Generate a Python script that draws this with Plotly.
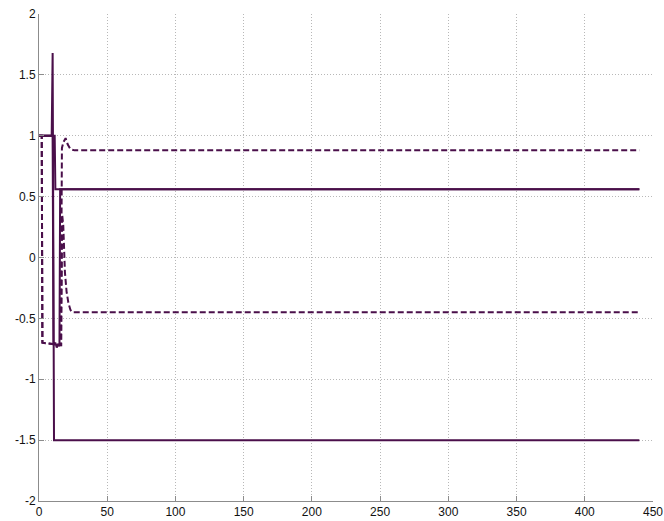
import plotly.graph_objects as go

# Breakpoints (flat segments are constant)
s1_x = [0, 9.3, 10, 10.6, 11, 440]
s1_y = [1, 1, 1.68, -0.95, -1.5, -1.5]

s2_x = [0, 11.5, 12, 440]
s2_y = [1, 1, 0.56, 0.56]

s3_x = [0, 10, 10.6, 12, 13, 14, 15, 15.5, 440]
s3_y = [1, 1, -0.72, -0.70, -0.74, -0.71, -0.73, 0.56, 0.56]

d1_x = [0, 2, 2.5, 16, 16.8, 18, 19.5, 21, 23, 26, 440]
d1_y = [1, 1, -0.70, -0.72, 0.90, 0.95, 0.98, 0.93, 0.89, 0.88, 0.88]

d2_x = [0, 2, 2.5, 16.3, 17, 17.8, 19, 20.2, 21.5, 23, 24.5, 440]
d2_y = [1, 1, -0.70, -0.72, 0.35, 0.26, -0.12, -0.28, -0.37, -0.43, -0.45, -0.45]

x_ticks = [0, 50, 100, 150, 200, 250, 300, 350, 400, 450]
y_ticks = [-2, -1.5, -1, -0.5, 0, 0.5, 1, 1.5, 2]
y_labels = ["-2", "-1.5", "-1", "-0.5", "0", "0.5", "1", "1.5", "2"]

color = "#4a0f4a"

fig = go.Figure()
for xs, ys, dash in [(d1_x, d1_y, "dash"), (d2_x, d2_y, "dash"),
                     (s3_x, s3_y, "solid"), (s2_x, s2_y, "solid"),
                     (s1_x, s1_y, "solid")]:
    fig.add_trace(go.Scatter(x=xs, y=ys, mode="lines",
                             line=dict(color=color, width=2,
                                       dash="6px,3px" if dash == "dash" else "solid"),
                             showlegend=False, hoverinfo="skip"))

axis_common = dict(showgrid=True, gridcolor="#b8b8b8", griddash="1px,2px", gridwidth=1,
                   zeroline=False, showline=True, linecolor="#8c8c8c", linewidth=1,
                   ticks="inside", ticklen=5, tickcolor="#8c8c8c", mirror=False,
                   automargin=False, ticklabeloverflow="allow",
                   tickfont=dict(family="Liberation Sans, Arial, sans-serif",
                                 size=12, color="#111111"))

fig.update_layout(
    width=664, height=521,
    margin=dict(l=39, r=11, t=14, b=20),
    paper_bgcolor="white", plot_bgcolor="white",
    xaxis=dict(range=[0, 450], tickvals=x_ticks, ticktext=[str(v) for v in x_ticks],
               **axis_common),
    yaxis=dict(range=[-2, 2], tickvals=y_ticks, ticktext=y_labels, **axis_common),
)

fig.write_html("out.html",
               config={"displayModeBar": False},
               post_script="document.body.style.margin='0';document.body.style.overflow='hidden';")
